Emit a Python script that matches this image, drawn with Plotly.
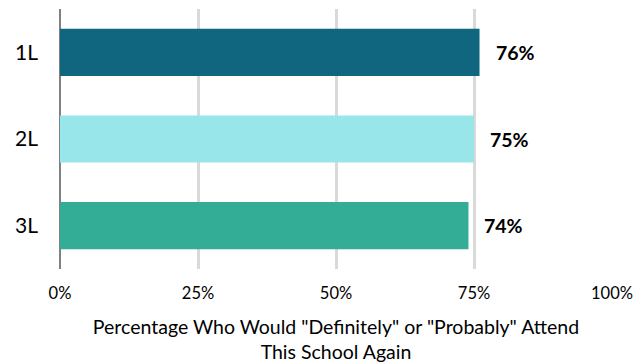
import plotly.graph_objects as go

# Survey results by class year
categories = ["1L", "2L", "3L"]
values = [0.76, 0.75, 0.74]
bar_colors = ["#0f667e", "#98e6ea", "#33ad96"]
tick_vals = [0, 0.25, 0.5, 0.75, 1.0]
tick_text = ["0%", "25%", "50%", "75%", "100%"]
axis_title = 'Percentage Who Would "Definitely" or "Probably" Attend<br>This School Again'

FONT = "Lato"

fig = go.Figure(
    go.Bar(
        y=categories,
        x=values,
        orientation="h",
        marker=dict(color=bar_colors, line=dict(width=0)),
        hoverinfo="skip",
    )
)

# Bold value labels just past the end of each bar
for cat, val in zip(categories, values):
    fig.add_annotation(
        x=val, y=cat, text=f"<b>{val:.0%}</b>", showarrow=False,
        xanchor="left", xshift=14, font=dict(family=FONT, size=19.5, color="#000000"),
    )

fig.update_layout(
    width=644, height=363,
    margin=dict(l=60, r=32, t=9, b=94),
    paper_bgcolor="white", plot_bgcolor="white",
    bargap=0.455,
    showlegend=False,
    font=dict(family=FONT, color="#000000"),
)

fig.update_xaxes(
    range=[0, 1],
    tickvals=tick_vals, ticktext=tick_text,
    tickfont=dict(family=FONT, size=16.5),
    ticklabelstandoff=12,
    showgrid=True, gridcolor="#d9d9d9", gridwidth=3,
    zeroline=True, zerolinecolor="#808080", zerolinewidth=2,
    showline=False, ticks="",
    title=dict(text=axis_title, font=dict(family=FONT, size=19.5), standoff=19),
    automargin=False,
    fixedrange=True,
)

fig.update_yaxes(
    autorange="reversed",
    tickfont=dict(family=FONT, size=21),
    ticklabelstandoff=21,
    showgrid=False, showline=False, ticks="",
    fixedrange=True,
)

fig.write_html("out.html", config={"displayModeBar": False})
